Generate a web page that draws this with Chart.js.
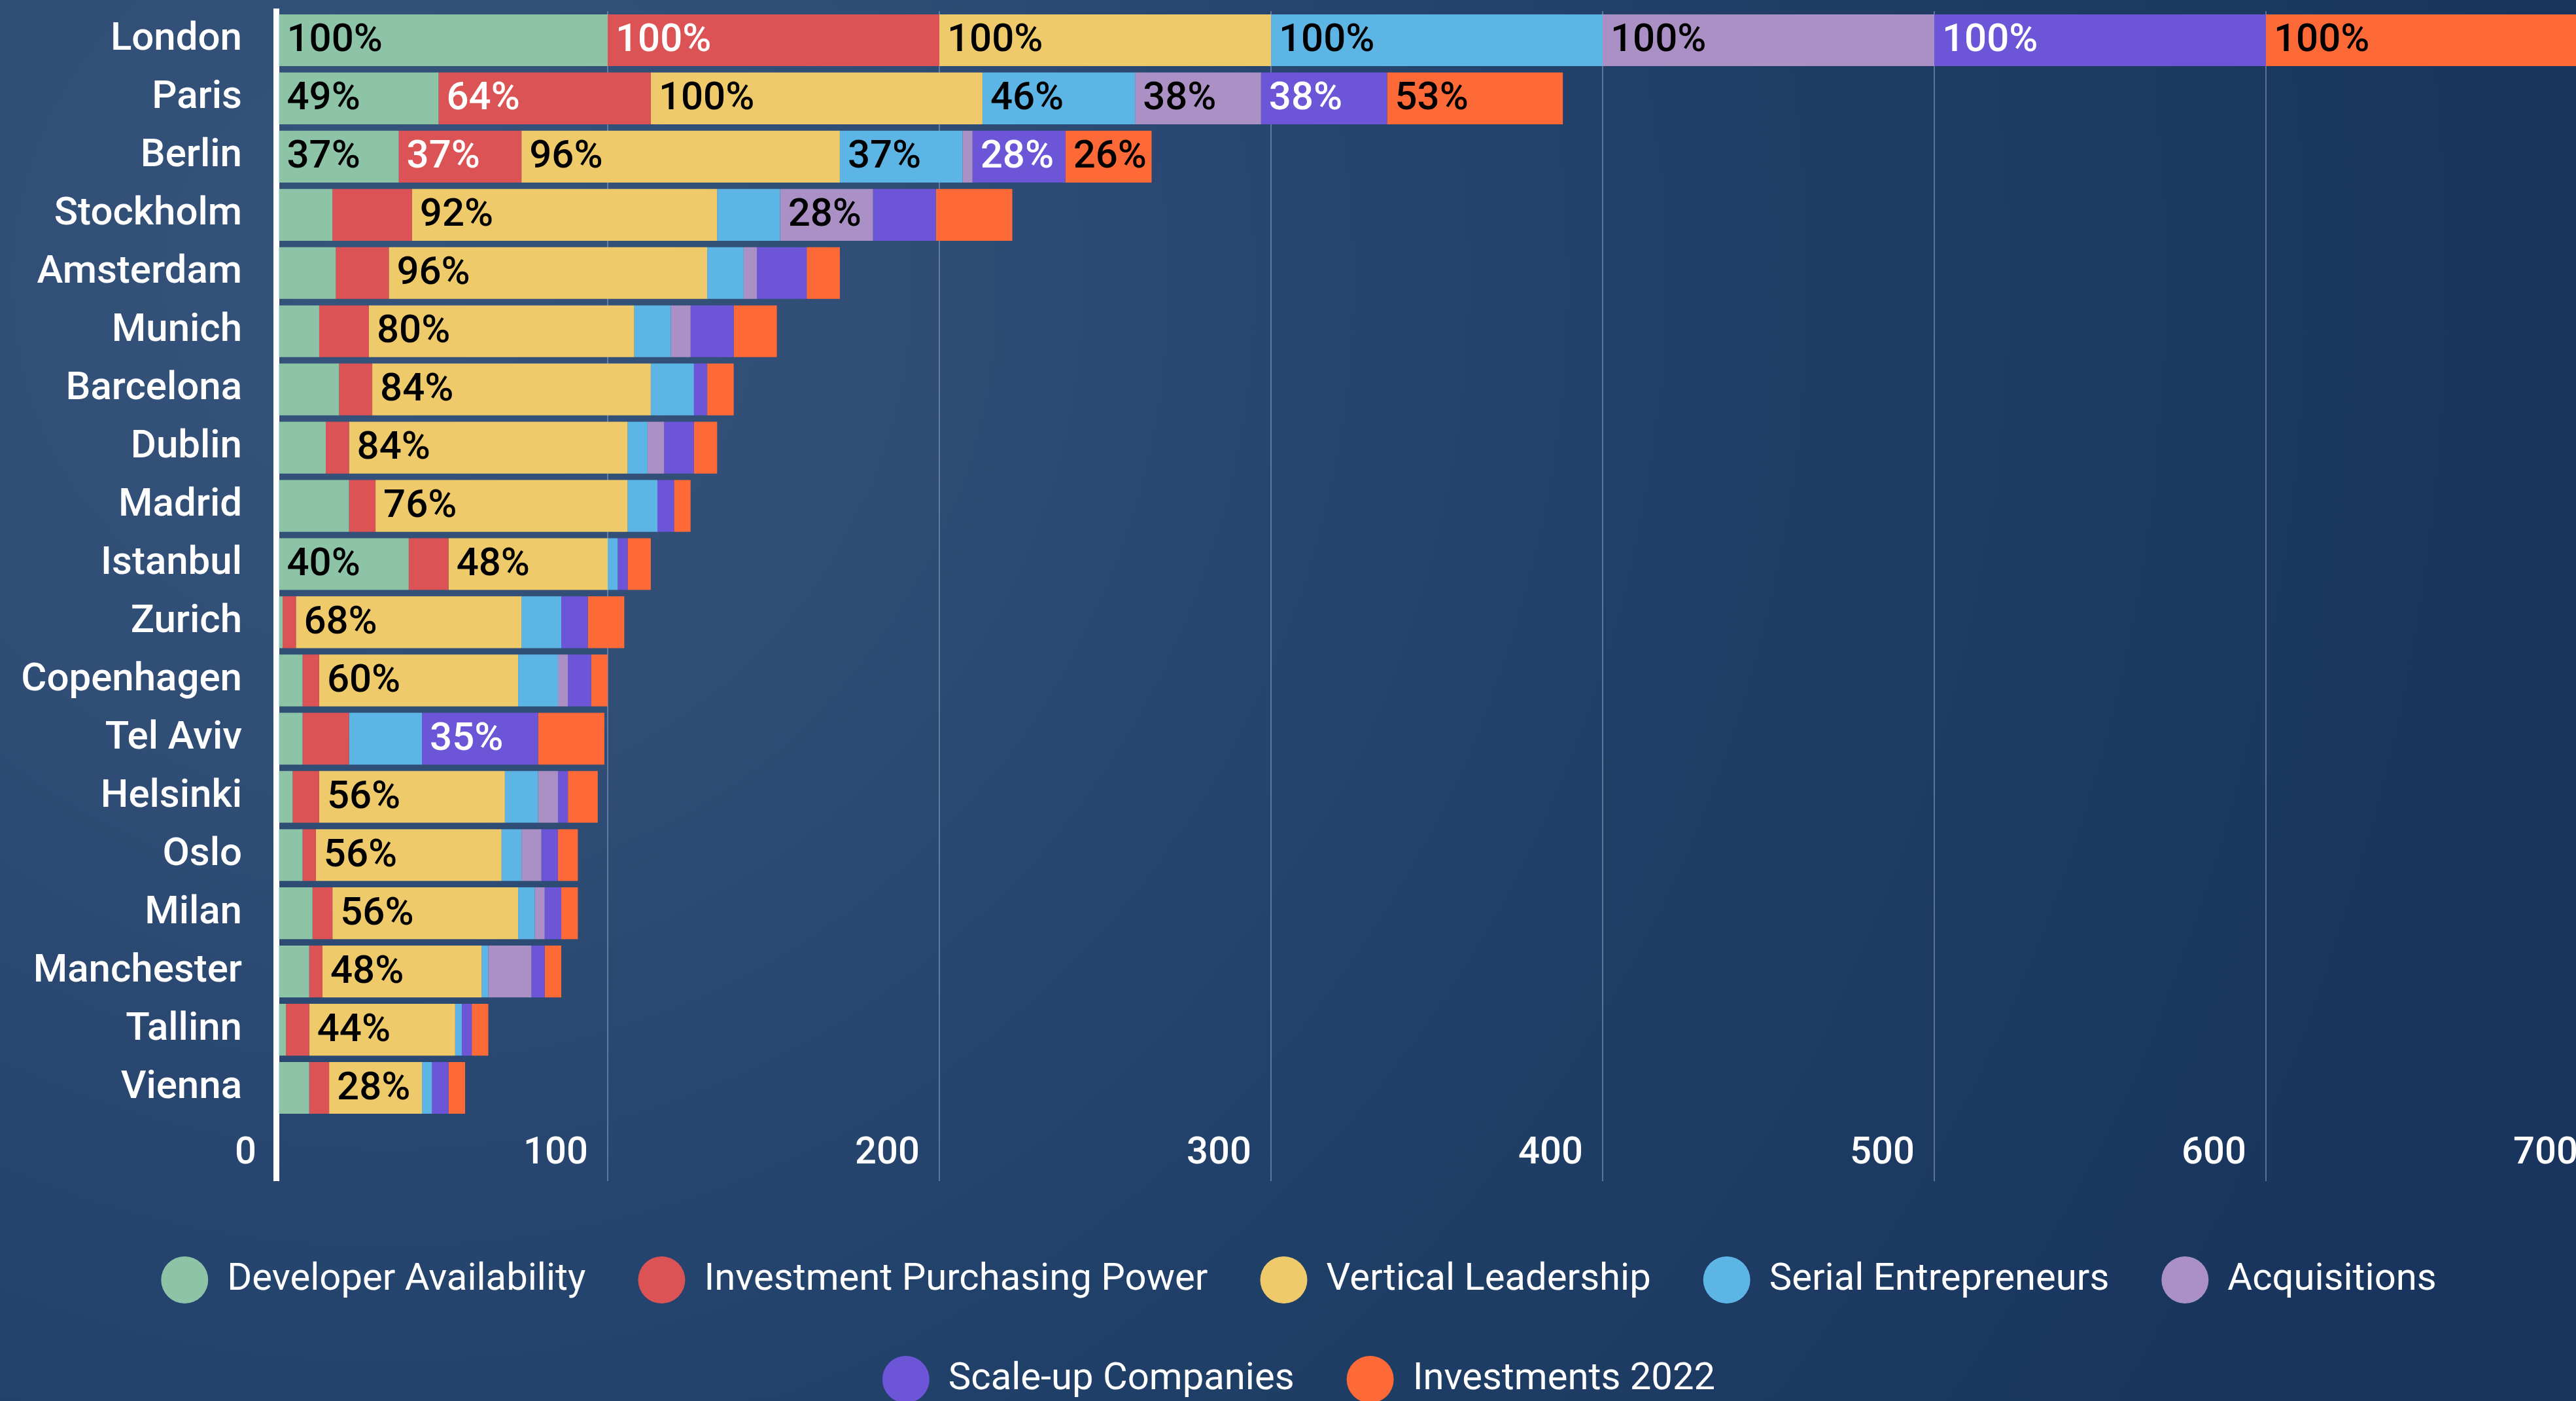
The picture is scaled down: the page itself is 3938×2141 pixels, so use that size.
<!DOCTYPE html>
<html>
<head>
<meta charset="utf-8">
<script src="https://cdn.jsdelivr.net/npm/chart.js@4"></script>
<style>
    html, body {
        margin: 0;
        width: 100%;
        height: 100%;
        overflow: hidden;
        background: radial-gradient(circle at 15% 20%, #35537b 0px, #2f4d75 800px, #23426c 1700px, #1f3e66 2200px, #19355d 3300px);
    }
    #wrap {
        position: relative;
        width: 3991px;
        height: 2154px;
    }
</style>
</head>
<body>
<div id="wrap"><canvas id="chart"></canvas></div>
<script>
const cities = ['London', 'Paris', 'Berlin', 'Stockholm', 'Amsterdam', 'Munich', 'Barcelona', 'Dublin', 'Madrid', 'Istanbul',
    'Zurich', 'Copenhagen', 'Tel Aviv', 'Helsinki', 'Oslo', 'Milan', 'Manchester', 'Tallinn', 'Vienna'];

const developerAvailability = [100, 49, 37, 17, 18, 13, 19, 15, 22, 40, 2, 8, 8, 5, 8, 11, 10, 3, 10];
const purchasingPower = [100, 64, 37, 24, 16, 15, 10, 7, 8, 12, 4, 5, 14, 8, 4, 6, 4, 7, 6];
const verticalLeadership = [100, 100, 96, 92, 96, 80, 84, 84, 76, 48, 68, 60, 0, 56, 56, 56, 48, 44, 28];
const serialEntrepreneurs = [100, 46, 37, 19, 11, 11, 13, 6, 9, 3, 12, 12, 22, 10, 6, 5, 2, 2, 3];
const acquisitions = [100, 38, 3, 28, 4, 6, 0, 5, 0, 0, 0, 3, 0, 6, 6, 3, 13, 0, 0];
const scaleUps = [100, 38, 28, 19, 15, 13, 4, 9, 5, 3, 8, 7, 35, 3, 5, 5, 4, 3, 5];
const investments2022 = [100, 53, 26, 23, 10, 13, 8, 7, 5, 7, 11, 5, 20, 9, 6, 5, 5, 5, 5];

const xTicks = [0, 100, 200, 300, 400, 500, 600, 700];

const series = [
    { label: 'Developer Availability', data: developerAvailability, color: '#8dc3a7', text: '#000' },
    { label: 'Investment Purchasing Power', data: purchasingPower, color: '#dc5356', text: '#fff' },
    { label: 'Vertical Leadership', data: verticalLeadership, color: '#efca6a', text: '#000' },
    { label: 'Serial Entrepreneurs', data: serialEntrepreneurs, color: '#5db5e5', text: '#000' },
    { label: 'Acquisitions', data: acquisitions, color: '#ab90c6', text: '#000' },
    { label: 'Scale-up Companies', data: scaleUps, color: '#6c55d6', text: '#fff' },
    { label: 'Investments 2022', data: investments2022, color: '#fd6937', text: '#000' },
];

const FONT = 'Roboto, "Noto Sans", sans-serif';

// percentage labels at the start of each wide enough segment
const segmentLabels = {
    id: 'segmentLabels',
    afterDatasetsDraw(chart) {
        const ctx = chart.ctx;
        ctx.save();
        ctx.font = '500 60px ' + FONT;
        ctx.textAlign = 'left';
        ctx.textBaseline = 'middle';
        chart.data.datasets.forEach((ds, i) => {
            chart.getDatasetMeta(i).data.forEach((bar, j) => {
                const v = ds.data[j];
                if (v < 25) return;
                ctx.fillStyle = series[i].text;
                ctx.fillText(v + '%', Math.min(bar.base, bar.x) + 12, bar.y + 2);
            });
        });
        ctx.restore();
    }
};

new Chart(document.getElementById('chart'), {
    type: 'bar',
    data: {
        labels: cities,
        datasets: series.map(s => ({
            label: s.label,
            data: s.data,
            backgroundColor: s.color,
            borderWidth: 0,
            barPercentage: 0.89,
            categoryPercentage: 1,
        })),
    },
    options: {
        indexAxis: 'y',
        responsive: true,
        maintainAspectRatio: false,
        animation: false,
        layout: {
            padding: { top: 17, right: 20, left: 0, bottom: 0 },
        },
        scales: {
            x: {
                stacked: true,
                min: 0,
                max: 700,
                afterBuildTicks: (scale) => {
                    scale.ticks = xTicks.map(v => ({ value: v }));
                },
                afterFit: (scale) => {
                    scale.height = 133;
                    scale.paddingLeft = 0;
                    scale.paddingRight = 0;
                },
                border: { display: false },
                grid: {
                    color: (context) => context.tick && context.tick.value === 0 ? '#ffffff' : 'rgba(150, 172, 202, 0.5)',
                    lineWidth: (context) => context.tick && context.tick.value === 0 ? 9 : 2,
                    tickLength: 98,
                },
                ticks: {
                    color: '#fff',
                    font: { family: FONT, size: 58, weight: 500 },
                    align: 'end',
                    labelOffset: -30,
                    padding: -76,
                    maxRotation: 0,
                    autoSkip: false,
                },
            },
            y: {
                stacked: true,
                z: 1,
                afterFit: (scale) => {
                    scale.width = 422;
                    scale.paddingTop = 0;
                    scale.paddingBottom = 0;
                },
                grid: { display: false },
                border: { display: true, color: '#ffffff', width: 9 },
                ticks: {
                    color: '#fff',
                    font: { family: FONT, size: 60, weight: 500 },
                    padding: 44,
                    autoSkip: false,
                },
            },
        },
        plugins: {
            legend: {
                position: 'bottom',
                labels: {
                    color: '#fff',
                    font: { family: FONT, size: 58 },
                    boxWidth: 72,
                    boxHeight: 72,
                    useBorderRadius: true,
                    borderRadius: 36,
                    padding: 80,
                },
            },
            tooltip: { enabled: false },
        },
    },
    plugins: [segmentLabels],
});
</script>
</body>
</html>
